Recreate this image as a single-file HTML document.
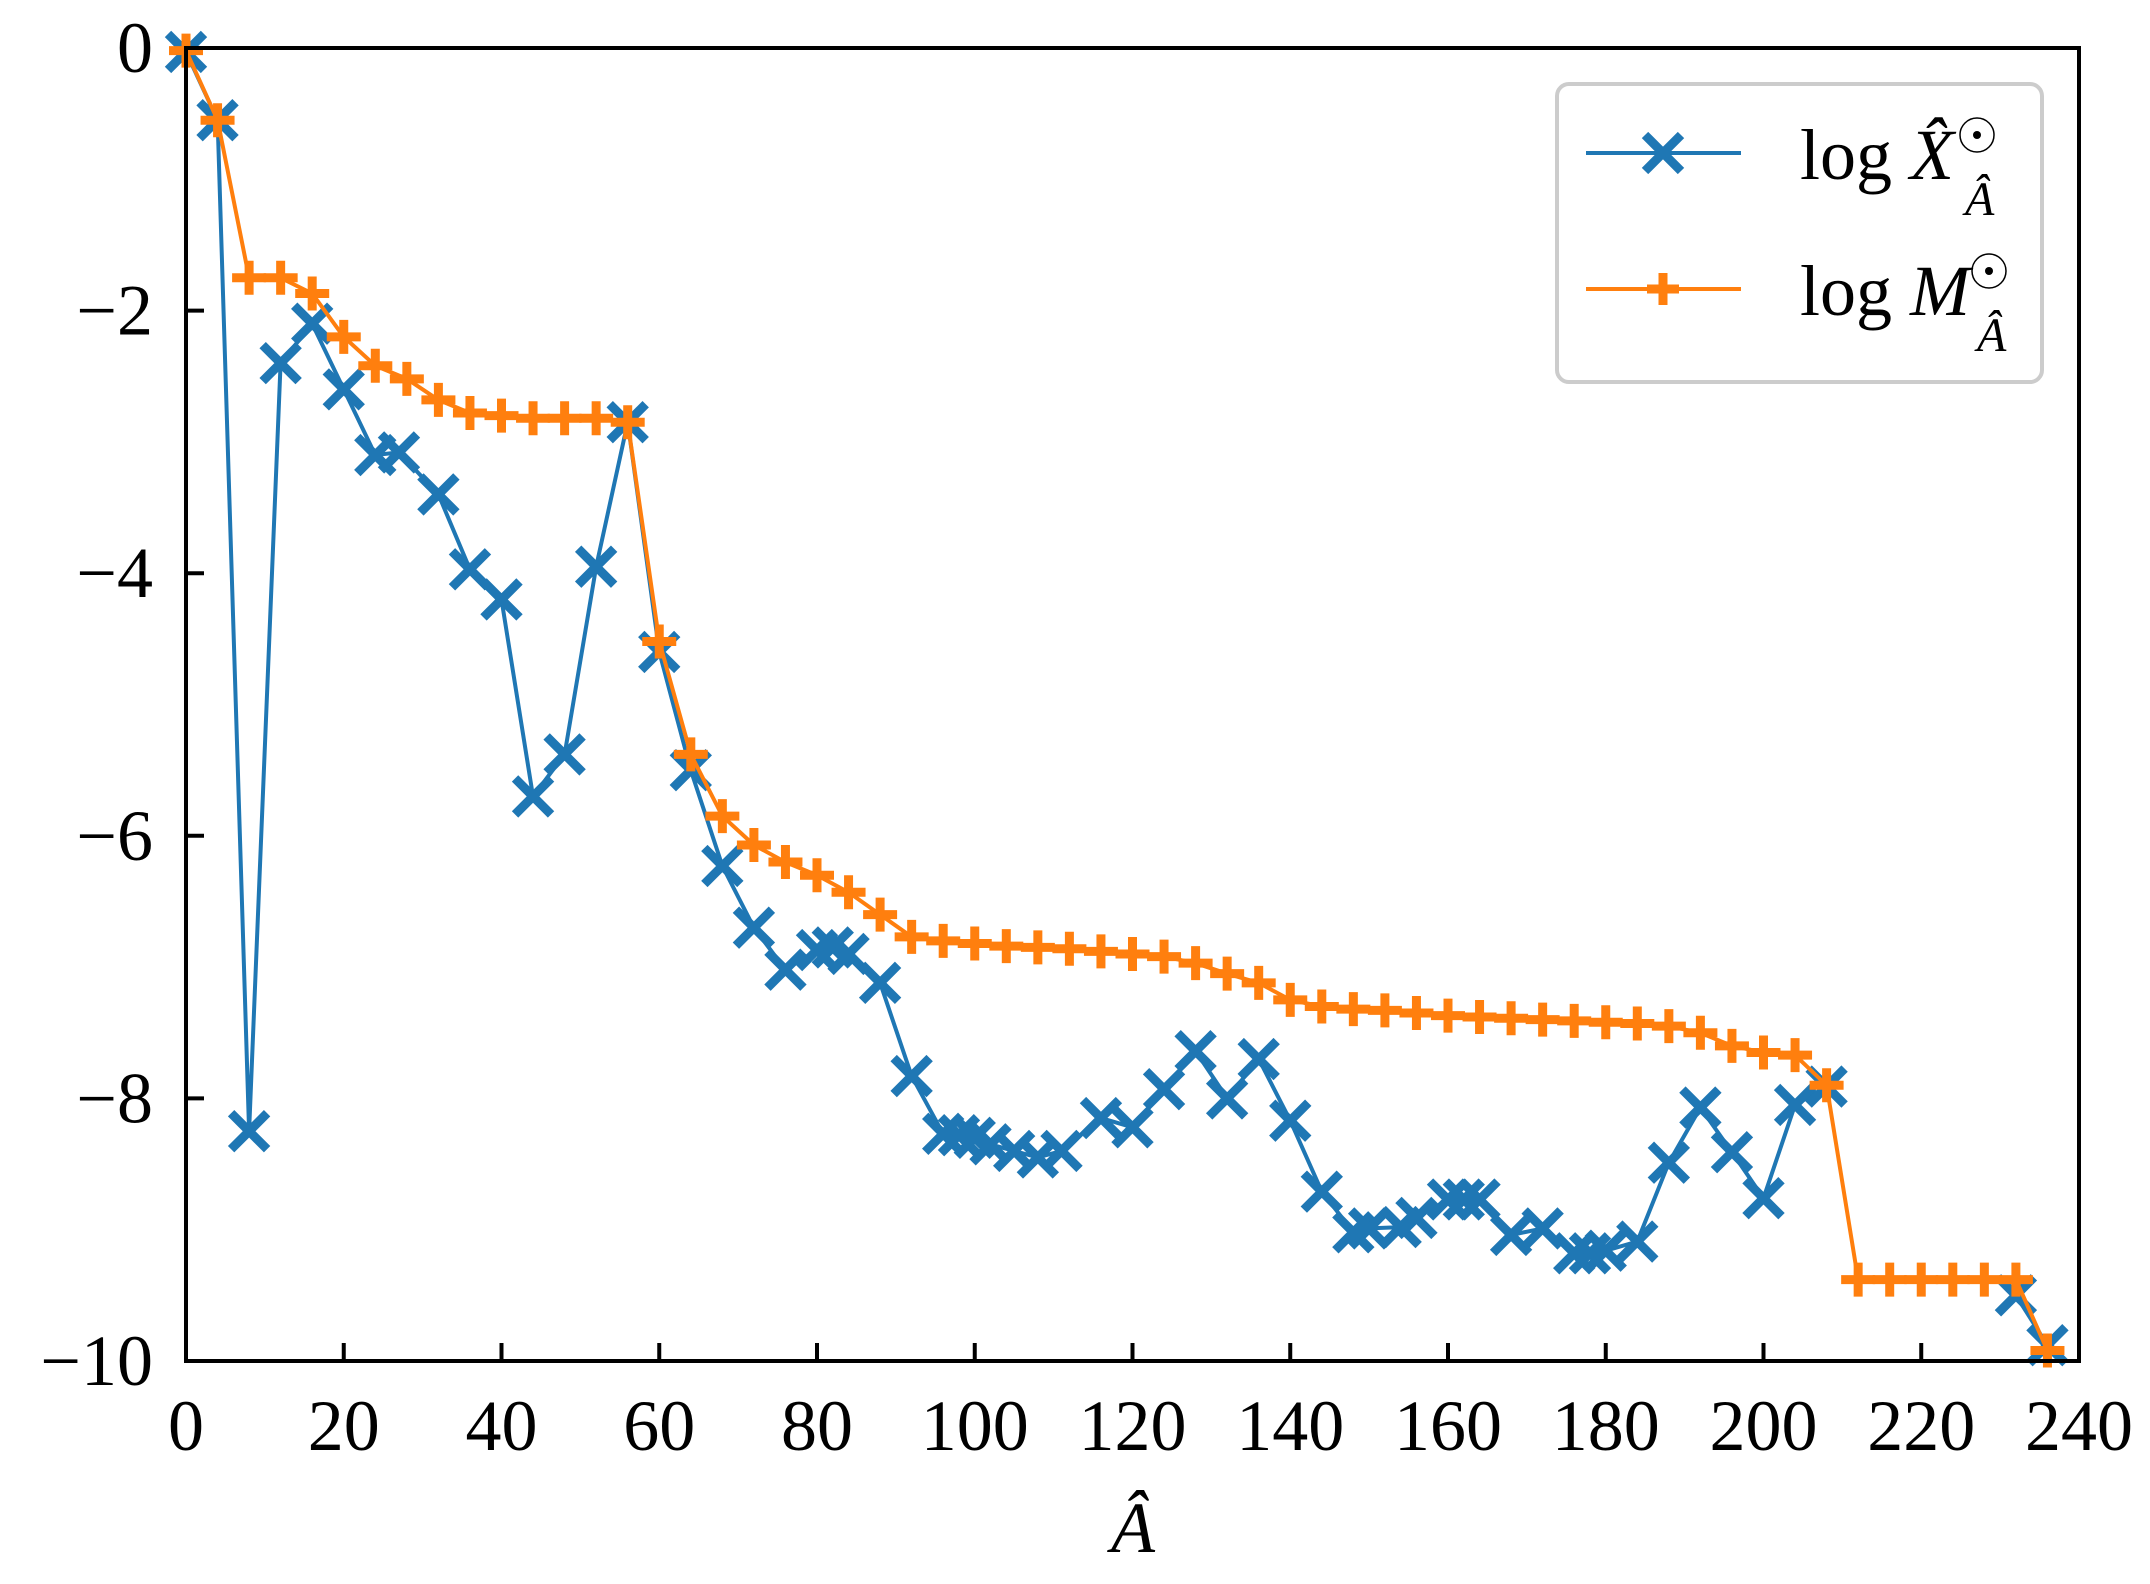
<!DOCTYPE html>
<html><head><meta charset="utf-8"><style>
html,body{margin:0;padding:0;background:#fff;}
svg{display:block;font-family:"Liberation Serif",serif;}
</style></head><body>
<svg id="chart" width="2150" height="1584" viewBox="0 0 2150 1584" xmlns="http://www.w3.org/2000/svg">
<rect width="2150" height="1584" fill="#fff"/>
<g id="ticks"></g>
<g id="series"></g>
<rect x="186" y="48" width="1893" height="1313" fill="none" stroke="#000" stroke-width="4"/>
<text x="1133" y="1552" font-size="72" font-style="italic" text-anchor="middle">Â</text>
<g>
<rect x="1557" y="84" width="485" height="298" rx="12" fill="#fff" fill-opacity="0.8" stroke="#ccc" stroke-width="4"/>
<g>
<line x1="1586" y1="153" x2="1741" y2="153" stroke="#1f77b4" stroke-width="4"/>
<path d="M1645,135 L1681,171 M1645,171 L1681,135" stroke="#1f77b4" stroke-width="9" fill="none"/>
<text x="1800" y="179" font-size="72">log <tspan font-style="italic">X̂</tspan></text>
<text x="1965" y="215" font-size="48" font-style="italic">Â</text>
<circle cx="1977" cy="135" r="17" fill="none" stroke="#000" stroke-width="1.5"/><circle cx="1977" cy="135" r="4" fill="#000"/>
</g>
<g>
<line x1="1586" y1="289" x2="1741" y2="289" stroke="#ff7f0e" stroke-width="4"/>
<path d="M1663,273 L1663,305 M1647,289 L1679,289" stroke="#ff7f0e" stroke-width="9" fill="none"/>
<text x="1800" y="315" font-size="72">log <tspan font-style="italic">M</tspan></text>
<text x="1977" y="351" font-size="48" font-style="italic">Â</text>
<circle cx="1989" cy="271" r="17" fill="none" stroke="#000" stroke-width="1.5"/><circle cx="1989" cy="271" r="4" fill="#000"/>
</g>
</g>
</svg>
<script>
const xTicks = [0,20,40,60,80,100,120,140,160,180,200,220,240];
const yTicks = [0,-2,-4,-6,-8,-10];
const blueX = [0,4,8,12,16,20,24,27,32,36,40,44,48,52,56,60,64,68,72,76,80,82,84,88,92,96,98,100,102,105,108,111,116,120,124,128,132,136,140,144,148,150,154,156,160,162,164,168,172,176,178,180,184,188,192,196,200,204,208,232,236];
const blueY = [-0.03,-0.55,-8.25,-2.4,-2.1,-2.6,-3.1,-3.08,-3.4,-3.97,-4.2,-5.7,-5.38,-3.95,-2.85,-4.6,-5.5,-6.23,-6.7,-7.02,-6.87,-6.85,-6.9,-7.12,-7.83,-8.27,-8.28,-8.3,-8.35,-8.4,-8.45,-8.4,-8.15,-8.22,-7.93,-7.64,-8.0,-7.7,-8.17,-8.71,-9.02,-8.99,-8.98,-8.91,-8.77,-8.77,-8.77,-9.04,-8.99,-9.18,-9.18,-9.16,-9.09,-8.49,-8.07,-8.41,-8.76,-8.05,-7.91,-9.5,-9.88];
const orangeX = [0,4,8,12,16,20,24,28,32,36,40,44,48,52,56,60,64,68,72,76,80,84,88,92,96,100,104,108,112,116,120,124,128,132,136,140,144,148,152,156,160,164,168,172,176,180,184,188,192,196,200,204,208,212,216,220,224,228,232,236];
const orangeY = [-0.02,-0.55,-1.75,-1.75,-1.87,-2.2,-2.42,-2.52,-2.68,-2.78,-2.8,-2.82,-2.82,-2.82,-2.85,-4.52,-5.38,-5.85,-6.07,-6.2,-6.3,-6.43,-6.6,-6.77,-6.8,-6.82,-6.84,-6.85,-6.86,-6.88,-6.9,-6.92,-6.97,-7.05,-7.12,-7.25,-7.3,-7.32,-7.33,-7.35,-7.37,-7.38,-7.39,-7.4,-7.41,-7.42,-7.43,-7.45,-7.5,-7.6,-7.65,-7.67,-7.9,-9.38,-9.38,-9.38,-9.38,-9.38,-9.38,-9.92];

const NS = "http://www.w3.org/2000/svg";
const L = 186, R = 2079, T = 48, B = 1361;
const sx = v => L + (v - 0) / 240 * (R - L);
const sy = v => T + (0 - v) / 10 * (B - T);
const tg = document.getElementById('ticks');
const sg = document.getElementById('series');
function mk(tag, attrs, parent) {
  const e = document.createElementNS(NS, tag);
  for (const k in attrs) e.setAttribute(k, attrs[k]);
  parent.appendChild(e);
  return e;
}
xTicks.forEach(t => {
  const x = sx(t);
  const ln = mk('line', {x1:x, y1:B, x2:x, y2:B-18, stroke:'#000', 'stroke-width':4}, tg);
  
  
  const tx = mk('text', {x:x, y:1450, 'font-size':72, 'text-anchor':'middle'}, tg);
  tx.textContent = String(t);
  
  
});
yTicks.forEach(t => {
  const y = sy(t);
  const ln = mk('line', {x1:L, y1:y, x2:L+18, y2:y, stroke:'#000', 'stroke-width':4}, tg);
  
  
  const tx = mk('text', {x:153, y:y+24, 'font-size':72, 'text-anchor':'end'}, tg);
  tx.textContent = t < 0 ? '\u2212' + Math.abs(t) : String(t);
  
  
});
function series(xs, ys, color, marker, name) {
  const g = mk('g', {}, sg);
  
  
  let segs = [[]];
  xs.forEach((x, i) => {
    if (i > 0 && x - xs[i-1] > 8) segs.push([]);
    segs[segs.length-1].push(sx(x).toFixed(1) + ',' + sy(ys[i]).toFixed(1));
  });
  segs.forEach(s => {
    const pl = mk('polyline', {points:s.join(' '), fill:'none', stroke:color, 'stroke-width':4, 'stroke-linejoin':'round'}, g);
    
    
  });
  xs.forEach((x, i) => {
    const cx = sx(x), cy = sy(ys[i]);
    const s = marker === 'x' ? 18 : 17;
    const d = marker === 'x'
      ? `M${cx-s},${cy-s} L${cx+s},${cy+s} M${cx-s},${cy+s} L${cx+s},${cy-s}`
      : `M${cx},${cy-s} L${cx},${cy+s} M${cx-s},${cy} L${cx+s},${cy}`;
    const p = mk('path', {d:d, stroke:color, 'stroke-width':9, fill:'none'}, g);
    
    
  });
}
series(blueX, blueY, '#1f77b4', 'x', 'series-log-x');
series(orangeX, orangeY, '#ff7f0e', '+', 'series-log-m');
</script>
</body></html>
